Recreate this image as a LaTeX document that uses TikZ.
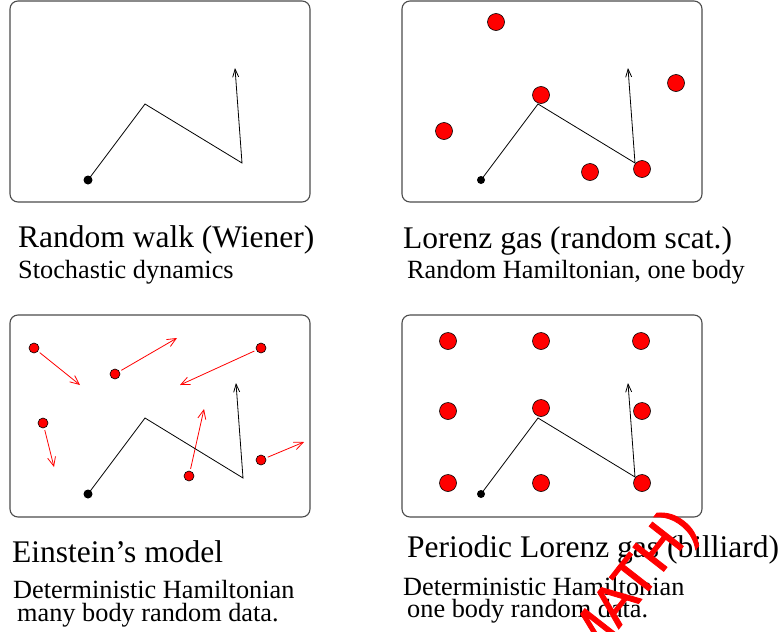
\documentclass[tikz,border=0pt]{standalone}
\usepackage{fontspec}
\setmainfont{Liberation Serif}
\newfontfamily\stampfont[FakeBold=1.5]{Liberation Sans}
\usetikzlibrary{arrows.meta}
\begin{document}
\begin{tikzpicture}[x=1pt,y=-1pt,
  panel/.style={draw=black!70, line width=1.1pt, rounded corners=8pt},
  walkarrow/.style={draw=black, line width=0.8pt, -{Straight Barb[length=8pt,width=6pt]}},
  ball/.style={circle, fill=red, draw=black, line width=0.6pt, minimum size=17pt, inner sep=0pt},
  smallball/.style={circle, fill=red, draw=black, line width=0.6pt, minimum size=10pt, inner sep=0pt},
  startdot/.style={circle, fill=black, minimum size=9pt, inner sep=0pt},
  velo/.style={draw=red, line width=0.8pt, shorten <=2pt, -{Straight Barb[length=9pt,width=8pt]}},
  title/.style={anchor=base west, inner sep=0pt, font=\fontsize{31.5}{36}\selectfont},
  sub/.style={anchor=base west, inner sep=0pt, font=\fontsize{26.3}{30}\selectfont},
]
\useasboundingbox (0,0) rectangle (782,632);

% ---------- Panel 1: random walk ----------
\draw[panel] (10,1) rectangle (310,202);
\node[startdot] (d1) at (88,180) {};
\coordinate (a1) at (145,104);
\coordinate (a2) at (242,163);
\coordinate (a3) at (235,68);
\draw[walkarrow] (d1.center) -- (a1) -- (a2) -- (a3);

% ---------- Panel 2: Lorenz gas ----------
\draw[panel] (402,1) rectangle (702,202);
\node[ball] (s1) at (496,22) {};
\node[ball] (s2) at (541,95) {};
\node[ball] (s3) at (444,131) {};
\node[ball] (s4) at (590,172) {};
\node[ball] (s5) at (642,169) {};
\node[ball] (s6) at (676,83) {};
\node[startdot, minimum size=8pt] (d2) at (481,180) {};
\coordinate (b1) at (538,104);
\coordinate (b2) at (635,163);
\coordinate (b3) at (628,68);
\draw[walkarrow] (d2.center) -- (b1) -- (b2) -- (b3);

% ---------- Panel 3: Einstein's model ----------
\draw[panel] (10,315) rectangle (310,517);
\node[smallball] (e1) at (34,348) {};
\node[smallball] (e2) at (115,374) {};
\node[smallball] (e3) at (261,348) {};
\node[smallball] (e4) at (43,423) {};
\node[smallball] (e5) at (189,476) {};
\node[smallball] (e6) at (261,460) {};
\coordinate (v1) at (80,385);
\coordinate (v2) at (177,338);
\coordinate (v3) at (180,385);
\coordinate (v4) at (54,467);
\coordinate (v5) at (204,409);
\coordinate (v6) at (304,442);
\draw[velo] (e1) -- (v1);
\draw[velo] (e2) -- (v2);
\draw[velo] (e3) -- (v3);
\draw[velo] (e4) -- (v4);
\draw[velo] (e5) -- (v5);
\draw[velo] (e6) -- (v6);
\node[startdot] (d3) at (88,494) {};
\coordinate (c1) at (145,418);
\coordinate (c2) at (243,478);
\coordinate (c3) at (236,383);
\draw[walkarrow] (d3.center) -- (c1) -- (c2) -- (c3);

% ---------- Panel 4: periodic Lorenz gas ----------
\draw[panel] (402,315) rectangle (702,517);
\node[ball] (g11) at (448,341) {};
\node[ball] (g12) at (541,341) {};
\node[ball] (g13) at (641,341) {};
\node[ball] (g21) at (448,411) {};
\node[ball] (g22) at (541,408) {};
\node[ball] (g23) at (642,411) {};
\node[ball] (g31) at (448,483) {};
\node[ball] (g32) at (541,483) {};
\node[ball] (g33) at (642,483) {};
\node[startdot, minimum size=8pt] (d4) at (481,494) {};
\coordinate (f1) at (538,418);
\coordinate (f2) at (635,477);
\coordinate (f3) at (628,383);
\draw[walkarrow] (d4.center) -- (f1) -- (f2) -- (f3);

% ---------- Captions ----------
\node[title] (t1) at (18,247) {Random walk (Wiener)};
\node[sub] (u1) at (18,278) {Stochastic dynamics};
\node[title] (t2) at (403,248) {Lorenz gas (random scat.)};
\node[sub] (u2) at (407,278) {Random Hamiltonian, one body};
\node[title] (t3) at (12,562) {Einstein’s model};
\node[sub] (u3) at (13,598) {Deterministic Hamiltonian};
\node[sub] (w3) at (17,621) {many body random data.};
\node[title] (t4) at (407,557) {Periodic Lorenz gas (billiard)};
\node[sub] (u4) at (403,595) {Deterministic Hamiltonian};
\node[sub] (w4) at (407,617) {one body random data.};

% ---------- Red stamp ----------
\begin{scope}
  \clip (0,0) rectangle (782,632);
  \node[rotate=52, text=red, inner sep=0pt, font=\stampfont\fontsize{57}{57}\selectfont] (stamp) at (632,588) {MATH)};
\end{scope}
\end{tikzpicture}
\end{document}
